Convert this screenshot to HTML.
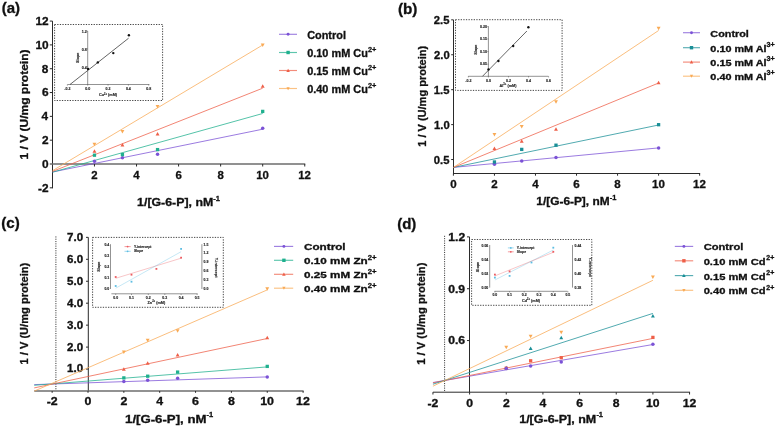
<!DOCTYPE html>
<html><head><meta charset="utf-8"><style>
html,body{margin:0;padding:0;background:#fff;}
svg{display:block;filter:blur(0.35px);}
text{font-family:"Liberation Sans", sans-serif;}
</style></head><body>
<svg width="776" height="427" viewBox="0 0 776 427">
<rect width="776" height="427" fill="#fff"/>
<text transform="translate(1.75,12.70) scale(1.029,1)" font-size="14.6" font-weight="bold" fill="#111" stroke="#111" stroke-width="0.3">(a)</text>
<line x1="52.50" y1="21.08" x2="52.50" y2="188.32" stroke="#2a2a2a" stroke-width="1.0" />
<line x1="49.80" y1="21.08" x2="52.50" y2="21.08" stroke="#2a2a2a" stroke-width="1.0" />
<line x1="49.80" y1="44.90" x2="52.50" y2="44.90" stroke="#2a2a2a" stroke-width="1.0" />
<line x1="49.80" y1="68.72" x2="52.50" y2="68.72" stroke="#2a2a2a" stroke-width="1.0" />
<line x1="49.80" y1="92.54" x2="52.50" y2="92.54" stroke="#2a2a2a" stroke-width="1.0" />
<line x1="49.80" y1="116.36" x2="52.50" y2="116.36" stroke="#2a2a2a" stroke-width="1.0" />
<line x1="49.80" y1="140.18" x2="52.50" y2="140.18" stroke="#2a2a2a" stroke-width="1.0" />
<line x1="49.80" y1="187.82" x2="52.50" y2="187.82" stroke="#2a2a2a" stroke-width="1.0" />
<text transform="translate(35.40,24.98) scale(1.120,1)" font-size="10.6" font-weight="bold" fill="#111" stroke="#111" stroke-width="0.3">12</text>
<text transform="translate(35.40,48.80) scale(1.120,1)" font-size="10.6" font-weight="bold" fill="#111" stroke="#111" stroke-width="0.3">10</text>
<text transform="translate(41.87,72.62) scale(1.120,1)" font-size="10.6" font-weight="bold" fill="#111" stroke="#111" stroke-width="0.3">8</text>
<text transform="translate(41.93,96.44) scale(1.120,1)" font-size="10.6" font-weight="bold" fill="#111" stroke="#111" stroke-width="0.3">6</text>
<text transform="translate(41.57,120.26) scale(1.120,1)" font-size="10.6" font-weight="bold" fill="#111" stroke="#111" stroke-width="0.3">4</text>
<text transform="translate(41.99,144.08) scale(1.120,1)" font-size="10.6" font-weight="bold" fill="#111" stroke="#111" stroke-width="0.3">2</text>
<text transform="translate(41.99,167.90) scale(1.120,1)" font-size="10.6" font-weight="bold" fill="#111" stroke="#111" stroke-width="0.3">0</text>
<text transform="translate(38.01,191.72) scale(1.120,1)" font-size="10.6" font-weight="bold" fill="#111" stroke="#111" stroke-width="0.3">-2</text>
<line x1="49.80" y1="164.00" x2="305.26" y2="164.00" stroke="#6c6c6c" stroke-width="1.3" />
<line x1="94.46" y1="164.00" x2="94.46" y2="166.50" stroke="#2a2a2a" stroke-width="1.0" />
<text transform="translate(91.33,179.30) scale(1.000,1)" font-size="11.4" font-weight="bold" fill="#111" stroke="#111" stroke-width="0.3">2</text>
<line x1="136.52" y1="164.00" x2="136.52" y2="166.50" stroke="#2a2a2a" stroke-width="1.0" />
<text transform="translate(133.30,179.30) scale(1.000,1)" font-size="11.4" font-weight="bold" fill="#111" stroke="#111" stroke-width="0.3">4</text>
<line x1="178.58" y1="164.00" x2="178.58" y2="166.50" stroke="#2a2a2a" stroke-width="1.0" />
<text transform="translate(175.42,179.30) scale(1.000,1)" font-size="11.4" font-weight="bold" fill="#111" stroke="#111" stroke-width="0.3">6</text>
<line x1="220.64" y1="164.00" x2="220.64" y2="166.50" stroke="#2a2a2a" stroke-width="1.0" />
<text transform="translate(217.48,179.30) scale(1.000,1)" font-size="11.4" font-weight="bold" fill="#111" stroke="#111" stroke-width="0.3">8</text>
<line x1="262.70" y1="164.00" x2="262.70" y2="166.50" stroke="#2a2a2a" stroke-width="1.0" />
<text transform="translate(256.23,179.30) scale(1.000,1)" font-size="11.4" font-weight="bold" fill="#111" stroke="#111" stroke-width="0.3">10</text>
<line x1="304.76" y1="164.00" x2="304.76" y2="166.50" stroke="#2a2a2a" stroke-width="1.0" />
<text transform="translate(298.29,179.30) scale(1.000,1)" font-size="11.4" font-weight="bold" fill="#111" stroke="#111" stroke-width="0.3">12</text>
<text transform="translate(27.70,159.48) rotate(-90) scale(1.083,1)" font-size="11.1" font-weight="bold" fill="#111" stroke="#111" stroke-width="0.3">1 / V (U/mg protein)</text>
<text transform="translate(137.10,205.70) scale(1.144,1)" font-size="10.8" font-weight="bold" fill="#111" stroke="#111" stroke-width="0.3">1/[G-6-P], nM</text>
<text transform="translate(213.37,200.50) scale(1.050,1)" font-size="7.1" font-weight="bold" fill="#111" stroke="#111" stroke-width="0.3">-1</text>
<rect x="54.60" y="24.50" width="108.00" height="76.00" fill="none" stroke="#333" stroke-width="0.9" stroke-dasharray="1.3 1.3"/>
<line x1="87.70" y1="31.00" x2="87.70" y2="84.50" stroke="#4a4a4a" stroke-width="0.6" />
<line x1="67.50" y1="84.50" x2="149.40" y2="84.50" stroke="#4a4a4a" stroke-width="0.6" />
<line x1="67.36" y1="84.50" x2="67.36" y2="85.60" stroke="#333" stroke-width="0.5" />
<line x1="87.70" y1="84.50" x2="87.70" y2="85.60" stroke="#333" stroke-width="0.5" />
<line x1="108.04" y1="84.50" x2="108.04" y2="85.60" stroke="#333" stroke-width="0.5" />
<line x1="128.38" y1="84.50" x2="128.38" y2="85.60" stroke="#333" stroke-width="0.5" />
<line x1="148.72" y1="84.50" x2="148.72" y2="85.60" stroke="#333" stroke-width="0.5" />
<line x1="86.60" y1="31.10" x2="87.70" y2="31.10" stroke="#333" stroke-width="0.5" />
<line x1="86.60" y1="48.90" x2="87.70" y2="48.90" stroke="#333" stroke-width="0.5" />
<line x1="86.60" y1="66.70" x2="87.70" y2="66.70" stroke="#333" stroke-width="0.5" />
<text x="86.80" y="33.06" font-size="3.6" font-weight="bold" text-anchor="end" fill="#2a2a2a" stroke="#2a2a2a" stroke-width="0.15">1.2</text>
<text x="86.80" y="50.86" font-size="3.6" font-weight="bold" text-anchor="end" fill="#2a2a2a" stroke="#2a2a2a" stroke-width="0.15">0.8</text>
<text x="86.80" y="68.66" font-size="3.6" font-weight="bold" text-anchor="end" fill="#2a2a2a" stroke="#2a2a2a" stroke-width="0.15">0.4</text>
<text x="67.36" y="90.06" font-size="3.6" font-weight="bold" text-anchor="middle" fill="#2a2a2a" stroke="#2a2a2a" stroke-width="0.15">-0.2</text>
<text x="87.70" y="90.06" font-size="3.6" font-weight="bold" text-anchor="middle" fill="#2a2a2a" stroke="#2a2a2a" stroke-width="0.15">0.0</text>
<text x="108.04" y="90.06" font-size="3.6" font-weight="bold" text-anchor="middle" fill="#2a2a2a" stroke="#2a2a2a" stroke-width="0.15">0.2</text>
<text x="128.38" y="90.06" font-size="3.6" font-weight="bold" text-anchor="middle" fill="#2a2a2a" stroke="#2a2a2a" stroke-width="0.15">0.4</text>
<text x="148.72" y="90.06" font-size="3.6" font-weight="bold" text-anchor="middle" fill="#2a2a2a" stroke="#2a2a2a" stroke-width="0.15">0.8</text>
<text transform="translate(78.60,57.80) rotate(-90)" text-anchor="middle" font-size="3.8" font-weight="bold" fill="#2a2a2a" stroke="#2a2a2a" stroke-width="0.15">Slope</text>
<text x="108.00" y="96.33" font-size="3.8" font-weight="bold" text-anchor="middle" fill="#2a2a2a" stroke="#2a2a2a" stroke-width="0.15">Cu<tspan dy="-1.3" font-size="2.6">2+</tspan><tspan dy="1.3"> (mM)</tspan></text>
<line x1="70.00" y1="84.50" x2="128.60" y2="38.20" stroke="#222" stroke-width="0.7" />
<circle cx="88.1" cy="68.9" r="1.2" fill="#111"/>
<circle cx="97.8" cy="62.4" r="1.2" fill="#111"/>
<circle cx="113.3" cy="53.1" r="1.2" fill="#111"/>
<circle cx="128.9" cy="35.2" r="1.2" fill="#111"/>
<line x1="52.50" y1="172.00" x2="262.70" y2="129.20" stroke="#7b52d6" stroke-width="0.90" stroke-opacity="0.85"/>
<line x1="52.50" y1="172.20" x2="262.70" y2="113.50" stroke="#1fb08e" stroke-width="0.90" stroke-opacity="0.85"/>
<line x1="52.50" y1="171.40" x2="262.70" y2="88.20" stroke="#ee5f48" stroke-width="0.90" stroke-opacity="0.85"/>
<line x1="52.50" y1="170.70" x2="262.70" y2="45.00" stroke="#f9aa55" stroke-width="0.90" stroke-opacity="0.85"/>
<circle cx="94.46" cy="161.20" r="1.75" fill="#7b52d6"/>
<circle cx="122.43" cy="157.80" r="1.75" fill="#7b52d6"/>
<circle cx="157.55" cy="154.20" r="1.75" fill="#7b52d6"/>
<circle cx="262.70" cy="128.30" r="1.75" fill="#7b52d6"/>
<rect x="92.81" y="153.55" width="3.30" height="3.30" fill="#1fb08e"/>
<rect x="120.78" y="152.95" width="3.30" height="3.30" fill="#1fb08e"/>
<rect x="155.90" y="147.95" width="3.30" height="3.30" fill="#1fb08e"/>
<rect x="261.05" y="109.75" width="3.30" height="3.30" fill="#1fb08e"/>
<polygon points="94.46,149.35 96.41,152.86 92.51,152.86" fill="#ee5f48"/>
<polygon points="122.43,142.95 124.38,146.46 120.48,146.46" fill="#ee5f48"/>
<polygon points="157.55,132.05 159.50,135.56 155.60,135.56" fill="#ee5f48"/>
<polygon points="262.70,84.15 264.65,87.66 260.75,87.66" fill="#ee5f48"/>
<polygon points="94.46,146.25 96.41,142.74 92.51,142.74" fill="#f9aa55"/>
<polygon points="122.43,133.55 124.38,130.04 120.48,130.04" fill="#f9aa55"/>
<polygon points="157.55,108.45 159.50,104.94 155.60,104.94" fill="#f9aa55"/>
<polygon points="262.70,46.95 264.65,43.44 260.75,43.44" fill="#f9aa55"/>
<line x1="279.00" y1="34.30" x2="297.00" y2="34.30" stroke="#7b52d6" stroke-width="1.15" stroke-opacity="0.72"/>
<circle cx="288.10" cy="34.30" r="1.45" fill="#7b52d6"/>
<text transform="translate(307.16,38.60) scale(1.050,1)" font-size="10.4" font-weight="bold" fill="#111" stroke="#111" stroke-width="0.3">Control</text>
<line x1="279.00" y1="52.50" x2="297.00" y2="52.50" stroke="#1fb08e" stroke-width="1.15" stroke-opacity="0.72"/>
<rect x="286.40" y="50.80" width="3.40" height="3.40" fill="#1fb08e"/>
<text transform="translate(307.16,56.80) scale(1.050,1)" font-size="10.4" font-weight="bold" fill="#111" stroke="#111" stroke-width="0.3">0.10 mM Cu</text>
<text transform="translate(367.96,52.10) scale(1.000,1)" font-size="7.4" font-weight="bold" fill="#111" stroke="#111" stroke-width="0.3">2+</text>
<line x1="279.00" y1="70.50" x2="297.00" y2="70.50" stroke="#ee5f48" stroke-width="1.15" stroke-opacity="0.72"/>
<polygon points="288.10,68.71 289.89,71.94 286.31,71.94" fill="#ee5f48"/>
<text transform="translate(307.16,74.80) scale(1.050,1)" font-size="10.4" font-weight="bold" fill="#111" stroke="#111" stroke-width="0.3">0.15 mM Cu</text>
<text transform="translate(367.96,70.10) scale(1.000,1)" font-size="7.4" font-weight="bold" fill="#111" stroke="#111" stroke-width="0.3">2+</text>
<line x1="279.00" y1="88.50" x2="297.00" y2="88.50" stroke="#f9aa55" stroke-width="1.15" stroke-opacity="0.72"/>
<polygon points="288.10,90.16 289.76,87.17 286.44,87.17" fill="#f9aa55"/>
<text transform="translate(307.16,92.80) scale(1.050,1)" font-size="10.4" font-weight="bold" fill="#111" stroke="#111" stroke-width="0.3">0.40 mM Cu</text>
<text transform="translate(367.96,88.10) scale(1.000,1)" font-size="7.4" font-weight="bold" fill="#111" stroke="#111" stroke-width="0.3">2+</text>
<text transform="translate(397.94,13.50) scale(1.045,1)" font-size="14.6" font-weight="bold" fill="#111" stroke="#111" stroke-width="0.3">(b)</text>
<line x1="453.50" y1="19.83" x2="453.50" y2="173.50" stroke="#2a2a2a" stroke-width="1.0" />
<line x1="451.20" y1="19.83" x2="453.50" y2="19.83" stroke="#2a2a2a" stroke-width="1.0" />
<text transform="translate(433.87,24.03) scale(1.080,1)" font-size="10.4" font-weight="bold" fill="#111" stroke="#111" stroke-width="0.3">2.5</text>
<line x1="451.20" y1="54.76" x2="453.50" y2="54.76" stroke="#2a2a2a" stroke-width="1.0" />
<text transform="translate(434.04,58.96) scale(1.080,1)" font-size="10.4" font-weight="bold" fill="#111" stroke="#111" stroke-width="0.3">2.0</text>
<line x1="451.20" y1="89.68" x2="453.50" y2="89.68" stroke="#2a2a2a" stroke-width="1.0" />
<text transform="translate(433.87,93.88) scale(1.080,1)" font-size="10.4" font-weight="bold" fill="#111" stroke="#111" stroke-width="0.3">1.5</text>
<line x1="451.20" y1="124.61" x2="453.50" y2="124.61" stroke="#2a2a2a" stroke-width="1.0" />
<text transform="translate(434.04,128.81) scale(1.080,1)" font-size="10.4" font-weight="bold" fill="#111" stroke="#111" stroke-width="0.3">1.0</text>
<line x1="451.20" y1="159.53" x2="453.50" y2="159.53" stroke="#2a2a2a" stroke-width="1.0" />
<text transform="translate(433.87,163.73) scale(1.080,1)" font-size="10.4" font-weight="bold" fill="#111" stroke="#111" stroke-width="0.3">0.5</text>
<line x1="453.00" y1="173.50" x2="700.14" y2="173.50" stroke="#2a2a2a" stroke-width="1.0" />
<line x1="453.40" y1="173.50" x2="453.40" y2="175.70" stroke="#2a2a2a" stroke-width="1.0" />
<text transform="translate(450.19,187.50) scale(1.090,1)" font-size="10.6" font-weight="bold" fill="#111" stroke="#111" stroke-width="0.3">0</text>
<line x1="494.44" y1="173.50" x2="494.44" y2="175.70" stroke="#2a2a2a" stroke-width="1.0" />
<text transform="translate(491.26,187.50) scale(1.090,1)" font-size="10.6" font-weight="bold" fill="#111" stroke="#111" stroke-width="0.3">2</text>
<line x1="535.48" y1="173.50" x2="535.48" y2="175.70" stroke="#2a2a2a" stroke-width="1.0" />
<text transform="translate(532.22,187.50) scale(1.090,1)" font-size="10.6" font-weight="bold" fill="#111" stroke="#111" stroke-width="0.3">4</text>
<line x1="576.52" y1="173.50" x2="576.52" y2="175.70" stroke="#2a2a2a" stroke-width="1.0" />
<text transform="translate(573.31,187.50) scale(1.090,1)" font-size="10.6" font-weight="bold" fill="#111" stroke="#111" stroke-width="0.3">6</text>
<line x1="617.56" y1="173.50" x2="617.56" y2="175.70" stroke="#2a2a2a" stroke-width="1.0" />
<text transform="translate(614.35,187.50) scale(1.090,1)" font-size="10.6" font-weight="bold" fill="#111" stroke="#111" stroke-width="0.3">8</text>
<line x1="658.60" y1="173.50" x2="658.60" y2="175.70" stroke="#2a2a2a" stroke-width="1.0" />
<text transform="translate(652.04,187.50) scale(1.090,1)" font-size="10.6" font-weight="bold" fill="#111" stroke="#111" stroke-width="0.3">10</text>
<line x1="699.64" y1="173.50" x2="699.64" y2="175.70" stroke="#2a2a2a" stroke-width="1.0" />
<text transform="translate(693.08,187.50) scale(1.090,1)" font-size="10.6" font-weight="bold" fill="#111" stroke="#111" stroke-width="0.3">12</text>
<text transform="translate(425.60,146.71) rotate(-90) scale(0.991,1)" font-size="11.1" font-weight="bold" fill="#111" stroke="#111" stroke-width="0.3">1 / V (U/mg protein)</text>
<text transform="translate(536.33,204.90) scale(1.143,1)" font-size="10.4" font-weight="bold" fill="#111" stroke="#111" stroke-width="0.3">1/[G-6-P], nM</text>
<text transform="translate(609.74,199.70) scale(1.050,1)" font-size="7.1" font-weight="bold" fill="#111" stroke="#111" stroke-width="0.3">-1</text>
<rect x="455.50" y="19.70" width="106.60" height="70.70" fill="none" stroke="#333" stroke-width="0.9" stroke-dasharray="1.3 1.3"/>
<line x1="488.40" y1="26.30" x2="488.40" y2="76.30" stroke="#4a4a4a" stroke-width="0.6" />
<line x1="468.20" y1="76.30" x2="548.40" y2="76.30" stroke="#4a4a4a" stroke-width="0.6" />
<line x1="468.34" y1="76.30" x2="468.34" y2="77.40" stroke="#333" stroke-width="0.5" />
<line x1="488.40" y1="76.30" x2="488.40" y2="77.40" stroke="#333" stroke-width="0.5" />
<line x1="508.46" y1="76.30" x2="508.46" y2="77.40" stroke="#333" stroke-width="0.5" />
<line x1="528.52" y1="76.30" x2="528.52" y2="77.40" stroke="#333" stroke-width="0.5" />
<line x1="548.58" y1="76.30" x2="548.58" y2="77.40" stroke="#333" stroke-width="0.5" />
<line x1="487.30" y1="26.60" x2="488.40" y2="26.60" stroke="#333" stroke-width="0.5" />
<line x1="487.30" y1="39.00" x2="488.40" y2="39.00" stroke="#333" stroke-width="0.5" />
<line x1="487.30" y1="51.60" x2="488.40" y2="51.60" stroke="#333" stroke-width="0.5" />
<line x1="487.30" y1="64.20" x2="488.40" y2="64.20" stroke="#333" stroke-width="0.5" />
<text x="487.00" y="27.86" font-size="3.6" font-weight="bold" text-anchor="end" fill="#2a2a2a" stroke="#2a2a2a" stroke-width="0.15">0.20</text>
<text x="487.00" y="40.26" font-size="3.6" font-weight="bold" text-anchor="end" fill="#2a2a2a" stroke="#2a2a2a" stroke-width="0.15">0.15</text>
<text x="487.00" y="52.86" font-size="3.6" font-weight="bold" text-anchor="end" fill="#2a2a2a" stroke="#2a2a2a" stroke-width="0.15">0.10</text>
<text x="487.00" y="65.46" font-size="3.6" font-weight="bold" text-anchor="end" fill="#2a2a2a" stroke="#2a2a2a" stroke-width="0.15">0.05</text>
<text x="468.34" y="81.96" font-size="3.6" font-weight="bold" text-anchor="middle" fill="#2a2a2a" stroke="#2a2a2a" stroke-width="0.15">-0.2</text>
<text x="488.40" y="81.96" font-size="3.6" font-weight="bold" text-anchor="middle" fill="#2a2a2a" stroke="#2a2a2a" stroke-width="0.15">0.0</text>
<text x="508.46" y="81.96" font-size="3.6" font-weight="bold" text-anchor="middle" fill="#2a2a2a" stroke="#2a2a2a" stroke-width="0.15">0.2</text>
<text x="528.52" y="81.96" font-size="3.6" font-weight="bold" text-anchor="middle" fill="#2a2a2a" stroke="#2a2a2a" stroke-width="0.15">0.4</text>
<text x="548.58" y="81.96" font-size="3.6" font-weight="bold" text-anchor="middle" fill="#2a2a2a" stroke="#2a2a2a" stroke-width="0.15">0.6</text>
<text transform="translate(476.90,49.70) rotate(-90)" text-anchor="middle" font-size="3.8" font-weight="bold" fill="#2a2a2a" stroke="#2a2a2a" stroke-width="0.15">Slope</text>
<text x="508.00" y="86.73" font-size="3.8" font-weight="bold" text-anchor="middle" fill="#2a2a2a" stroke="#2a2a2a" stroke-width="0.15">Al<tspan dy="-1.3" font-size="2.6">3+</tspan><tspan dy="1.3"> (mM)</tspan></text>
<line x1="482.50" y1="76.30" x2="526.90" y2="31.00" stroke="#222" stroke-width="0.7" />
<circle cx="488.5" cy="69.4" r="1.2" fill="#111"/>
<circle cx="498.4" cy="61.0" r="1.2" fill="#111"/>
<circle cx="513.2" cy="46.0" r="1.2" fill="#111"/>
<circle cx="528.4" cy="27.2" r="1.2" fill="#111"/>
<line x1="453.50" y1="167.40" x2="658.60" y2="147.90" stroke="#7b52d6" stroke-width="0.90" stroke-opacity="0.85"/>
<line x1="453.50" y1="167.40" x2="658.60" y2="125.00" stroke="#1a8f97" stroke-width="0.90" stroke-opacity="0.85"/>
<line x1="453.50" y1="167.40" x2="658.60" y2="83.00" stroke="#ee5f48" stroke-width="0.90" stroke-opacity="0.85"/>
<line x1="453.50" y1="167.40" x2="658.60" y2="30.50" stroke="#f9aa55" stroke-width="0.90" stroke-opacity="0.85"/>
<circle cx="494.44" cy="164.30" r="1.75" fill="#7b52d6"/>
<circle cx="521.73" cy="160.90" r="1.75" fill="#7b52d6"/>
<circle cx="556.00" cy="157.40" r="1.75" fill="#7b52d6"/>
<circle cx="658.60" cy="147.90" r="1.75" fill="#7b52d6"/>
<rect x="492.79" y="160.35" width="3.30" height="3.30" fill="#1a8f97"/>
<rect x="520.08" y="147.75" width="3.30" height="3.30" fill="#1a8f97"/>
<rect x="554.35" y="143.55" width="3.30" height="3.30" fill="#1a8f97"/>
<rect x="656.95" y="123.05" width="3.30" height="3.30" fill="#1a8f97"/>
<polygon points="494.44,146.45 496.39,149.96 492.49,149.96" fill="#ee5f48"/>
<polygon points="521.73,139.25 523.68,142.76 519.78,142.76" fill="#ee5f48"/>
<polygon points="556.00,127.35 557.95,130.86 554.05,130.86" fill="#ee5f48"/>
<polygon points="658.60,80.85 660.55,84.36 656.65,84.36" fill="#ee5f48"/>
<polygon points="494.44,136.55 496.39,133.04 492.49,133.04" fill="#f9aa55"/>
<polygon points="521.73,128.55 523.68,125.04 519.78,125.04" fill="#f9aa55"/>
<polygon points="556.00,103.85 557.95,100.34 554.05,100.34" fill="#f9aa55"/>
<polygon points="658.60,30.15 660.55,26.64 656.65,26.64" fill="#f9aa55"/>
<line x1="683.00" y1="32.70" x2="700.00" y2="32.70" stroke="#7b52d6" stroke-width="1.15" stroke-opacity="0.72"/>
<circle cx="691.50" cy="32.70" r="1.45" fill="#7b52d6"/>
<text transform="translate(710.37,36.60) scale(1.260,1)" font-size="8.6" font-weight="bold" fill="#111" stroke="#111" stroke-width="0.3">Control</text>
<line x1="683.00" y1="47.70" x2="700.00" y2="47.70" stroke="#1a8f97" stroke-width="1.15" stroke-opacity="0.72"/>
<rect x="689.80" y="46.00" width="3.40" height="3.40" fill="#1a8f97"/>
<text transform="translate(710.37,51.60) scale(1.260,1)" font-size="8.6" font-weight="bold" fill="#111" stroke="#111" stroke-width="0.3">0.10 mM Al</text>
<text transform="translate(766.61,46.80) scale(1.120,1)" font-size="6.4" font-weight="bold" fill="#111" stroke="#111" stroke-width="0.3">3+</text>
<line x1="683.00" y1="62.10" x2="700.00" y2="62.10" stroke="#ee5f48" stroke-width="1.15" stroke-opacity="0.72"/>
<polygon points="691.50,60.31 693.29,63.54 689.71,63.54" fill="#ee5f48"/>
<text transform="translate(710.37,66.00) scale(1.260,1)" font-size="8.6" font-weight="bold" fill="#111" stroke="#111" stroke-width="0.3">0.15 mM Al</text>
<text transform="translate(766.61,61.20) scale(1.120,1)" font-size="6.4" font-weight="bold" fill="#111" stroke="#111" stroke-width="0.3">3+</text>
<line x1="683.00" y1="76.20" x2="700.00" y2="76.20" stroke="#f9aa55" stroke-width="1.15" stroke-opacity="0.72"/>
<polygon points="691.50,77.86 693.16,74.87 689.84,74.87" fill="#f9aa55"/>
<text transform="translate(710.37,80.10) scale(1.260,1)" font-size="8.6" font-weight="bold" fill="#111" stroke="#111" stroke-width="0.3">0.40 mM Al</text>
<text transform="translate(766.61,75.30) scale(1.120,1)" font-size="6.4" font-weight="bold" fill="#111" stroke="#111" stroke-width="0.3">3+</text>
<text transform="translate(1.34,228.00) scale(1.035,1)" font-size="14.6" font-weight="bold" fill="#111" stroke="#111" stroke-width="0.3">(c)</text>
<line x1="88.30" y1="237.35" x2="88.30" y2="391.00" stroke="#2a2a2a" stroke-width="1.0" />
<line x1="86.00" y1="237.35" x2="88.30" y2="237.35" stroke="#2a2a2a" stroke-width="1.0" />
<text transform="translate(67.11,240.75) scale(1.155,1)" font-size="10.0" font-weight="bold" fill="#111" stroke="#111" stroke-width="0.3">7.0</text>
<line x1="86.00" y1="259.30" x2="88.30" y2="259.30" stroke="#2a2a2a" stroke-width="1.0" />
<text transform="translate(67.11,262.70) scale(1.155,1)" font-size="10.0" font-weight="bold" fill="#111" stroke="#111" stroke-width="0.3">6.0</text>
<line x1="86.00" y1="281.25" x2="88.30" y2="281.25" stroke="#2a2a2a" stroke-width="1.0" />
<text transform="translate(67.11,284.65) scale(1.155,1)" font-size="10.0" font-weight="bold" fill="#111" stroke="#111" stroke-width="0.3">5.0</text>
<line x1="86.00" y1="303.20" x2="88.30" y2="303.20" stroke="#2a2a2a" stroke-width="1.0" />
<text transform="translate(67.11,306.60) scale(1.155,1)" font-size="10.0" font-weight="bold" fill="#111" stroke="#111" stroke-width="0.3">4.0</text>
<line x1="86.00" y1="325.15" x2="88.30" y2="325.15" stroke="#2a2a2a" stroke-width="1.0" />
<text transform="translate(67.11,328.55) scale(1.155,1)" font-size="10.0" font-weight="bold" fill="#111" stroke="#111" stroke-width="0.3">3.0</text>
<line x1="86.00" y1="347.10" x2="88.30" y2="347.10" stroke="#2a2a2a" stroke-width="1.0" />
<text transform="translate(67.11,350.50) scale(1.155,1)" font-size="10.0" font-weight="bold" fill="#111" stroke="#111" stroke-width="0.3">2.0</text>
<line x1="86.00" y1="369.05" x2="88.30" y2="369.05" stroke="#2a2a2a" stroke-width="1.0" />
<text transform="translate(67.11,372.45) scale(1.155,1)" font-size="10.0" font-weight="bold" fill="#111" stroke="#111" stroke-width="0.3">1.0</text>
<line x1="34.22" y1="391.00" x2="303.60" y2="391.00" stroke="#6e6e6e" stroke-width="1.5" />
<line x1="52.15" y1="391.00" x2="52.15" y2="392.80" stroke="#2a2a2a" stroke-width="1.0" />
<text transform="translate(46.64,405.10) scale(1.190,1)" font-size="10.4" font-weight="bold" fill="#111" stroke="#111" stroke-width="0.3">-2</text>
<line x1="88.00" y1="391.00" x2="88.00" y2="392.80" stroke="#2a2a2a" stroke-width="1.0" />
<text transform="translate(84.57,405.10) scale(1.190,1)" font-size="10.4" font-weight="bold" fill="#111" stroke="#111" stroke-width="0.3">0</text>
<line x1="123.85" y1="391.00" x2="123.85" y2="392.80" stroke="#2a2a2a" stroke-width="1.0" />
<text transform="translate(120.45,405.10) scale(1.190,1)" font-size="10.4" font-weight="bold" fill="#111" stroke="#111" stroke-width="0.3">2</text>
<line x1="159.70" y1="391.00" x2="159.70" y2="392.80" stroke="#2a2a2a" stroke-width="1.0" />
<text transform="translate(156.20,405.10) scale(1.190,1)" font-size="10.4" font-weight="bold" fill="#111" stroke="#111" stroke-width="0.3">4</text>
<line x1="195.55" y1="391.00" x2="195.55" y2="392.80" stroke="#2a2a2a" stroke-width="1.0" />
<text transform="translate(192.12,405.10) scale(1.190,1)" font-size="10.4" font-weight="bold" fill="#111" stroke="#111" stroke-width="0.3">6</text>
<line x1="231.40" y1="391.00" x2="231.40" y2="392.80" stroke="#2a2a2a" stroke-width="1.0" />
<text transform="translate(227.97,405.10) scale(1.190,1)" font-size="10.4" font-weight="bold" fill="#111" stroke="#111" stroke-width="0.3">8</text>
<line x1="267.25" y1="391.00" x2="267.25" y2="392.80" stroke="#2a2a2a" stroke-width="1.0" />
<text transform="translate(260.23,405.10) scale(1.190,1)" font-size="10.4" font-weight="bold" fill="#111" stroke="#111" stroke-width="0.3">10</text>
<line x1="303.10" y1="391.00" x2="303.10" y2="392.80" stroke="#2a2a2a" stroke-width="1.0" />
<text transform="translate(296.08,405.10) scale(1.190,1)" font-size="10.4" font-weight="bold" fill="#111" stroke="#111" stroke-width="0.3">12</text>
<line x1="55.90" y1="236.40" x2="55.90" y2="390.00" stroke="#222" stroke-width="0.9" stroke-dasharray="1.1 1.2"/>
<text transform="translate(27.80,364.52) rotate(-90) scale(1.001,1)" font-size="11.1" font-weight="bold" fill="#111" stroke="#111" stroke-width="0.3">1 / V (U/mg protein)</text>
<text transform="translate(125.04,422.60) scale(1.247,1)" font-size="10.6" font-weight="bold" fill="#111" stroke="#111" stroke-width="0.3">1/[G-6-P], nM</text>
<text transform="translate(206.57,417.40) scale(1.050,1)" font-size="7.1" font-weight="bold" fill="#111" stroke="#111" stroke-width="0.3">-1</text>
<rect x="92.60" y="237.40" width="130.70" height="69.90" fill="none" stroke="#333" stroke-width="0.9" stroke-dasharray="1.3 1.3"/>
<line x1="110.50" y1="244.20" x2="110.50" y2="289.00" stroke="#4a4a4a" stroke-width="0.6" />
<line x1="201.90" y1="244.20" x2="201.90" y2="289.00" stroke="#4a4a4a" stroke-width="0.6" />
<line x1="111.40" y1="293.80" x2="197.60" y2="293.80" stroke="#4a4a4a" stroke-width="0.6" />
<line x1="115.70" y1="293.80" x2="115.70" y2="294.90" stroke="#333" stroke-width="0.5" />
<line x1="131.50" y1="293.80" x2="131.50" y2="294.90" stroke="#333" stroke-width="0.5" />
<line x1="148.30" y1="293.80" x2="148.30" y2="294.90" stroke="#333" stroke-width="0.5" />
<line x1="164.80" y1="293.80" x2="164.80" y2="294.90" stroke="#333" stroke-width="0.5" />
<line x1="181.10" y1="293.80" x2="181.10" y2="294.90" stroke="#333" stroke-width="0.5" />
<line x1="197.10" y1="293.80" x2="197.10" y2="294.90" stroke="#333" stroke-width="0.5" />
<text x="109.30" y="245.92" font-size="3.5" font-weight="bold" text-anchor="end" fill="#2a2a2a" stroke="#2a2a2a" stroke-width="0.15">0.4</text>
<text x="109.30" y="256.62" font-size="3.5" font-weight="bold" text-anchor="end" fill="#2a2a2a" stroke="#2a2a2a" stroke-width="0.15">0.3</text>
<text x="109.30" y="267.53" font-size="3.5" font-weight="bold" text-anchor="end" fill="#2a2a2a" stroke="#2a2a2a" stroke-width="0.15">0.2</text>
<text x="109.30" y="278.62" font-size="3.5" font-weight="bold" text-anchor="end" fill="#2a2a2a" stroke="#2a2a2a" stroke-width="0.15">0.1</text>
<text x="109.30" y="290.03" font-size="3.5" font-weight="bold" text-anchor="end" fill="#2a2a2a" stroke="#2a2a2a" stroke-width="0.15">0.0</text>
<text x="203.50" y="245.92" font-size="3.5" font-weight="bold" text-anchor="start" fill="#2a2a2a" stroke="#2a2a2a" stroke-width="0.15">1.5</text>
<text x="203.50" y="253.82" font-size="3.5" font-weight="bold" text-anchor="start" fill="#2a2a2a" stroke="#2a2a2a" stroke-width="0.15">1.2</text>
<text x="203.50" y="262.83" font-size="3.5" font-weight="bold" text-anchor="start" fill="#2a2a2a" stroke="#2a2a2a" stroke-width="0.15">0.9</text>
<text x="203.50" y="272.23" font-size="3.5" font-weight="bold" text-anchor="start" fill="#2a2a2a" stroke="#2a2a2a" stroke-width="0.15">0.6</text>
<text x="203.50" y="281.03" font-size="3.5" font-weight="bold" text-anchor="start" fill="#2a2a2a" stroke="#2a2a2a" stroke-width="0.15">0.3</text>
<text x="203.50" y="290.03" font-size="3.5" font-weight="bold" text-anchor="start" fill="#2a2a2a" stroke="#2a2a2a" stroke-width="0.15">0.0</text>
<text x="115.70" y="298.83" font-size="3.5" font-weight="bold" text-anchor="middle" fill="#2a2a2a" stroke="#2a2a2a" stroke-width="0.15">0.0</text>
<text x="131.50" y="298.83" font-size="3.5" font-weight="bold" text-anchor="middle" fill="#2a2a2a" stroke="#2a2a2a" stroke-width="0.15">0.1</text>
<text x="148.30" y="298.83" font-size="3.5" font-weight="bold" text-anchor="middle" fill="#2a2a2a" stroke="#2a2a2a" stroke-width="0.15">0.2</text>
<text x="164.80" y="298.83" font-size="3.5" font-weight="bold" text-anchor="middle" fill="#2a2a2a" stroke="#2a2a2a" stroke-width="0.15">0.3</text>
<text x="181.10" y="298.83" font-size="3.5" font-weight="bold" text-anchor="middle" fill="#2a2a2a" stroke="#2a2a2a" stroke-width="0.15">0.4</text>
<text x="197.10" y="298.83" font-size="3.5" font-weight="bold" text-anchor="middle" fill="#2a2a2a" stroke="#2a2a2a" stroke-width="0.15">0.5</text>
<text transform="translate(100.00,266.70) rotate(-90)" text-anchor="middle" font-size="3.8" font-weight="bold" fill="#2a2a2a" stroke="#2a2a2a" stroke-width="0.15">Slope</text>
<text transform="translate(215.00,267.60) rotate(90)" text-anchor="middle" font-size="3.8" font-weight="bold" fill="#2a2a2a" stroke="#2a2a2a" stroke-width="0.15">Y-intercept</text>
<text x="156.40" y="303.63" font-size="3.8" font-weight="bold" text-anchor="middle" fill="#2a2a2a" stroke="#2a2a2a" stroke-width="0.15">Zn<tspan dy="-1.3" font-size="2.6">2+</tspan><tspan dy="1.3"> (mM)</tspan></text>
<line x1="124.50" y1="246.60" x2="130.70" y2="246.60" stroke="#ec5b60" stroke-width="0.6" />
<circle cx="127.6" cy="246.6" r="0.9" fill="#ec5b60"/>
<text x="133.90" y="247.79" font-size="3.4" font-weight="bold" text-anchor="start" fill="#2a2a2a" stroke="#2a2a2a" stroke-width="0.15">Y-intercept</text>
<line x1="124.50" y1="251.30" x2="130.70" y2="251.30" stroke="#5cbde2" stroke-width="0.6" />
<circle cx="127.6" cy="251.3" r="0.9" fill="#5cbde2"/>
<text x="133.90" y="252.49" font-size="3.4" font-weight="bold" text-anchor="start" fill="#2a2a2a" stroke="#2a2a2a" stroke-width="0.15">Slope</text>
<line x1="115.70" y1="278.30" x2="181.10" y2="258.20" stroke="#ec5b60" stroke-width="0.5" stroke-opacity="0.7"/>
<line x1="115.70" y1="288.20" x2="181.10" y2="251.70" stroke="#5cbde2" stroke-width="0.5" stroke-opacity="0.7"/>
<rect x="114.79" y="276.09" width="1.81" height="1.81" fill="#ec5b60"/>
<rect x="130.59" y="273.79" width="1.81" height="1.81" fill="#ec5b60"/>
<rect x="155.49" y="267.99" width="1.81" height="1.81" fill="#ec5b60"/>
<rect x="180.19" y="256.79" width="1.81" height="1.81" fill="#ec5b60"/>
<rect x="114.79" y="285.09" width="1.81" height="1.81" fill="#5cbde2"/>
<rect x="130.59" y="280.79" width="1.81" height="1.81" fill="#5cbde2"/>
<rect x="180.19" y="247.99" width="1.81" height="1.81" fill="#5cbde2"/>
<line x1="34.22" y1="384.60" x2="267.25" y2="376.90" stroke="#7b52d6" stroke-width="0.90" stroke-opacity="0.85"/>
<line x1="34.22" y1="385.30" x2="267.25" y2="366.90" stroke="#1fb08e" stroke-width="0.90" stroke-opacity="0.85"/>
<line x1="34.22" y1="387.90" x2="267.25" y2="338.50" stroke="#ee5f48" stroke-width="0.90" stroke-opacity="0.85"/>
<line x1="34.22" y1="391.10" x2="267.25" y2="289.90" stroke="#f9aa55" stroke-width="0.90" stroke-opacity="0.85"/>
<circle cx="123.85" cy="381.50" r="1.75" fill="#7b52d6"/>
<circle cx="147.69" cy="380.30" r="1.75" fill="#7b52d6"/>
<circle cx="177.62" cy="378.20" r="1.75" fill="#7b52d6"/>
<circle cx="267.25" cy="376.90" r="1.75" fill="#7b52d6"/>
<rect x="122.20" y="376.25" width="3.30" height="3.30" fill="#1fb08e"/>
<rect x="146.04" y="374.55" width="3.30" height="3.30" fill="#1fb08e"/>
<rect x="175.97" y="370.45" width="3.30" height="3.30" fill="#1fb08e"/>
<rect x="265.60" y="364.75" width="3.30" height="3.30" fill="#1fb08e"/>
<polygon points="123.85,367.25 125.80,370.76 121.90,370.76" fill="#ee5f48"/>
<polygon points="147.69,361.15 149.64,364.66 145.74,364.66" fill="#ee5f48"/>
<polygon points="177.62,352.95 179.57,356.46 175.68,356.46" fill="#ee5f48"/>
<polygon points="267.25,335.65 269.20,339.16 265.30,339.16" fill="#ee5f48"/>
<polygon points="123.85,353.95 125.80,350.44 121.90,350.44" fill="#f9aa55"/>
<polygon points="147.69,342.15 149.64,338.64 145.74,338.64" fill="#f9aa55"/>
<polygon points="177.62,332.65 179.57,329.14 175.68,329.14" fill="#f9aa55"/>
<polygon points="267.25,290.75 269.20,287.24 265.30,287.24" fill="#f9aa55"/>
<line x1="274.00" y1="246.40" x2="293.20" y2="246.40" stroke="#7b52d6" stroke-width="1.15" stroke-opacity="0.72"/>
<circle cx="283.90" cy="246.40" r="1.45" fill="#7b52d6"/>
<text transform="translate(304.03,250.40) scale(1.300,1)" font-size="9.0" font-weight="bold" fill="#111" stroke="#111" stroke-width="0.3">Control</text>
<line x1="274.00" y1="260.30" x2="293.20" y2="260.30" stroke="#1fb08e" stroke-width="1.15" stroke-opacity="0.72"/>
<rect x="282.20" y="258.60" width="3.40" height="3.40" fill="#1fb08e"/>
<text transform="translate(304.03,264.30) scale(1.300,1)" font-size="9.0" font-weight="bold" fill="#111" stroke="#111" stroke-width="0.3">0.10 mM Zn</text>
<text transform="translate(367.67,260.00) scale(1.150,1)" font-size="6.7" font-weight="bold" fill="#111" stroke="#111" stroke-width="0.3">2+</text>
<line x1="274.00" y1="274.30" x2="293.20" y2="274.30" stroke="#ee5f48" stroke-width="1.15" stroke-opacity="0.72"/>
<polygon points="283.90,272.51 285.69,275.74 282.11,275.74" fill="#ee5f48"/>
<text transform="translate(304.03,278.30) scale(1.300,1)" font-size="9.0" font-weight="bold" fill="#111" stroke="#111" stroke-width="0.3">0.25 mM Zn</text>
<text transform="translate(367.67,274.00) scale(1.150,1)" font-size="6.7" font-weight="bold" fill="#111" stroke="#111" stroke-width="0.3">2+</text>
<line x1="274.00" y1="288.20" x2="293.20" y2="288.20" stroke="#f9aa55" stroke-width="1.15" stroke-opacity="0.72"/>
<polygon points="283.90,289.86 285.56,286.87 282.24,286.87" fill="#f9aa55"/>
<text transform="translate(304.03,292.20) scale(1.300,1)" font-size="9.0" font-weight="bold" fill="#111" stroke="#111" stroke-width="0.3">0.40 mM Zn</text>
<text transform="translate(367.67,287.90) scale(1.150,1)" font-size="6.7" font-weight="bold" fill="#111" stroke="#111" stroke-width="0.3">2+</text>
<text transform="translate(397.15,229.30) scale(1.027,1)" font-size="14.6" font-weight="bold" fill="#111" stroke="#111" stroke-width="0.3">(d)</text>
<line x1="469.50" y1="236.88" x2="469.50" y2="392.20" stroke="#2a2a2a" stroke-width="1.0" />
<line x1="467.00" y1="236.88" x2="469.50" y2="236.88" stroke="#2a2a2a" stroke-width="1.0" />
<text transform="translate(448.27,240.68) scale(1.170,1)" font-size="10.4" font-weight="bold" fill="#111" stroke="#111" stroke-width="0.3">1.2</text>
<line x1="467.00" y1="288.72" x2="469.50" y2="288.72" stroke="#2a2a2a" stroke-width="1.0" />
<text transform="translate(448.21,292.52) scale(1.170,1)" font-size="10.4" font-weight="bold" fill="#111" stroke="#111" stroke-width="0.3">0.9</text>
<line x1="467.00" y1="340.56" x2="469.50" y2="340.56" stroke="#2a2a2a" stroke-width="1.0" />
<text transform="translate(448.21,344.36) scale(1.170,1)" font-size="10.4" font-weight="bold" fill="#111" stroke="#111" stroke-width="0.3">0.6</text>
<line x1="432.94" y1="392.20" x2="690.06" y2="392.20" stroke="#2a2a2a" stroke-width="1.0" />
<line x1="432.94" y1="392.20" x2="432.94" y2="394.50" stroke="#2a2a2a" stroke-width="1.0" />
<text transform="translate(427.52,406.70) scale(1.160,1)" font-size="10.5" font-weight="bold" fill="#111" stroke="#111" stroke-width="0.3">-2</text>
<line x1="469.60" y1="392.20" x2="469.60" y2="394.50" stroke="#2a2a2a" stroke-width="1.0" />
<text transform="translate(466.22,406.70) scale(1.160,1)" font-size="10.5" font-weight="bold" fill="#111" stroke="#111" stroke-width="0.3">0</text>
<line x1="506.26" y1="392.20" x2="506.26" y2="394.50" stroke="#2a2a2a" stroke-width="1.0" />
<text transform="translate(502.91,406.70) scale(1.160,1)" font-size="10.5" font-weight="bold" fill="#111" stroke="#111" stroke-width="0.3">2</text>
<line x1="542.92" y1="392.20" x2="542.92" y2="394.50" stroke="#2a2a2a" stroke-width="1.0" />
<text transform="translate(539.48,406.70) scale(1.160,1)" font-size="10.5" font-weight="bold" fill="#111" stroke="#111" stroke-width="0.3">4</text>
<line x1="579.58" y1="392.20" x2="579.58" y2="394.50" stroke="#2a2a2a" stroke-width="1.0" />
<text transform="translate(576.20,406.70) scale(1.160,1)" font-size="10.5" font-weight="bold" fill="#111" stroke="#111" stroke-width="0.3">6</text>
<line x1="616.24" y1="392.20" x2="616.24" y2="394.50" stroke="#2a2a2a" stroke-width="1.0" />
<text transform="translate(612.86,406.70) scale(1.160,1)" font-size="10.5" font-weight="bold" fill="#111" stroke="#111" stroke-width="0.3">8</text>
<line x1="652.90" y1="392.20" x2="652.90" y2="394.50" stroke="#2a2a2a" stroke-width="1.0" />
<text transform="translate(645.99,406.70) scale(1.160,1)" font-size="10.5" font-weight="bold" fill="#111" stroke="#111" stroke-width="0.3">10</text>
<line x1="689.56" y1="392.20" x2="689.56" y2="394.50" stroke="#2a2a2a" stroke-width="1.0" />
<text transform="translate(682.65,406.70) scale(1.160,1)" font-size="10.5" font-weight="bold" fill="#111" stroke="#111" stroke-width="0.3">12</text>
<line x1="444.60" y1="235.80" x2="444.60" y2="391.50" stroke="#222" stroke-width="0.9" stroke-dasharray="1.1 1.2"/>
<text transform="translate(425.30,364.73) rotate(-90) scale(1.005,1)" font-size="11.1" font-weight="bold" fill="#111" stroke="#111" stroke-width="0.3">1 / V (U/mg protein)</text>
<text transform="translate(519.19,422.60) scale(1.180,1)" font-size="10.6" font-weight="bold" fill="#111" stroke="#111" stroke-width="0.3">1/[G-6-P], nM</text>
<text transform="translate(596.39,417.40) scale(1.050,1)" font-size="7.1" font-weight="bold" fill="#111" stroke="#111" stroke-width="0.3">-1</text>
<rect x="471.60" y="239.50" width="120.20" height="65.80" fill="none" stroke="#333" stroke-width="0.9" stroke-dasharray="1.3 1.3"/>
<line x1="489.70" y1="245.00" x2="489.70" y2="287.60" stroke="#4a4a4a" stroke-width="0.6" />
<line x1="572.50" y1="245.00" x2="572.50" y2="287.60" stroke="#4a4a4a" stroke-width="0.6" />
<line x1="494.50" y1="291.30" x2="567.50" y2="291.30" stroke="#4a4a4a" stroke-width="0.6" />
<line x1="494.90" y1="291.30" x2="494.90" y2="292.40" stroke="#333" stroke-width="0.5" />
<line x1="509.60" y1="291.30" x2="509.60" y2="292.40" stroke="#333" stroke-width="0.5" />
<line x1="524.20" y1="291.30" x2="524.20" y2="292.40" stroke="#333" stroke-width="0.5" />
<line x1="539.00" y1="291.30" x2="539.00" y2="292.40" stroke="#333" stroke-width="0.5" />
<line x1="553.30" y1="291.30" x2="553.30" y2="292.40" stroke="#333" stroke-width="0.5" />
<line x1="567.90" y1="291.30" x2="567.90" y2="292.40" stroke="#333" stroke-width="0.5" />
<text x="488.30" y="246.82" font-size="3.5" font-weight="bold" text-anchor="end" fill="#2a2a2a" stroke="#2a2a2a" stroke-width="0.15">0.06</text>
<text x="488.30" y="260.73" font-size="3.5" font-weight="bold" text-anchor="end" fill="#2a2a2a" stroke="#2a2a2a" stroke-width="0.15">0.04</text>
<text x="488.30" y="274.73" font-size="3.5" font-weight="bold" text-anchor="end" fill="#2a2a2a" stroke="#2a2a2a" stroke-width="0.15">0.02</text>
<text x="488.30" y="288.62" font-size="3.5" font-weight="bold" text-anchor="end" fill="#2a2a2a" stroke="#2a2a2a" stroke-width="0.15">0.00</text>
<text x="574.50" y="246.82" font-size="3.5" font-weight="bold" text-anchor="start" fill="#2a2a2a" stroke="#2a2a2a" stroke-width="0.15">0.44</text>
<text x="574.50" y="260.73" font-size="3.5" font-weight="bold" text-anchor="start" fill="#2a2a2a" stroke="#2a2a2a" stroke-width="0.15">0.42</text>
<text x="574.50" y="274.73" font-size="3.5" font-weight="bold" text-anchor="start" fill="#2a2a2a" stroke="#2a2a2a" stroke-width="0.15">0.40</text>
<text x="574.50" y="288.62" font-size="3.5" font-weight="bold" text-anchor="start" fill="#2a2a2a" stroke="#2a2a2a" stroke-width="0.15">0.38</text>
<text x="494.90" y="296.12" font-size="3.5" font-weight="bold" text-anchor="middle" fill="#2a2a2a" stroke="#2a2a2a" stroke-width="0.15">0.0</text>
<text x="509.60" y="296.12" font-size="3.5" font-weight="bold" text-anchor="middle" fill="#2a2a2a" stroke="#2a2a2a" stroke-width="0.15">0.1</text>
<text x="524.20" y="296.12" font-size="3.5" font-weight="bold" text-anchor="middle" fill="#2a2a2a" stroke="#2a2a2a" stroke-width="0.15">0.2</text>
<text x="539.00" y="296.12" font-size="3.5" font-weight="bold" text-anchor="middle" fill="#2a2a2a" stroke="#2a2a2a" stroke-width="0.15">0.3</text>
<text x="553.30" y="296.12" font-size="3.5" font-weight="bold" text-anchor="middle" fill="#2a2a2a" stroke="#2a2a2a" stroke-width="0.15">0.4</text>
<text x="567.90" y="296.12" font-size="3.5" font-weight="bold" text-anchor="middle" fill="#2a2a2a" stroke="#2a2a2a" stroke-width="0.15">0.5</text>
<text transform="translate(478.80,267.00) rotate(-90)" text-anchor="middle" font-size="3.8" font-weight="bold" fill="#2a2a2a" stroke="#2a2a2a" stroke-width="0.15">Slope</text>
<text transform="translate(589.00,267.00) rotate(90)" text-anchor="middle" font-size="3.8" font-weight="bold" fill="#2a2a2a" stroke="#2a2a2a" stroke-width="0.15">Y-intercept</text>
<text x="531.00" y="301.73" font-size="3.8" font-weight="bold" text-anchor="middle" fill="#2a2a2a" stroke="#2a2a2a" stroke-width="0.15">Cd<tspan dy="-1.3" font-size="2.6">2+</tspan><tspan dy="1.3"> (mM)</tspan></text>
<line x1="507.90" y1="247.90" x2="513.70" y2="247.90" stroke="#5cbde2" stroke-width="0.6" />
<circle cx="510.8" cy="247.9" r="0.9" fill="#5cbde2"/>
<text x="516.80" y="249.09" font-size="3.4" font-weight="bold" text-anchor="start" fill="#2a2a2a" stroke="#2a2a2a" stroke-width="0.15">Y-intercept</text>
<line x1="507.90" y1="251.80" x2="513.70" y2="251.80" stroke="#ec5b60" stroke-width="0.6" />
<circle cx="510.8" cy="251.8" r="0.9" fill="#ec5b60"/>
<text x="516.80" y="252.99" font-size="3.4" font-weight="bold" text-anchor="start" fill="#2a2a2a" stroke="#2a2a2a" stroke-width="0.15">Slope</text>
<line x1="494.90" y1="280.00" x2="553.30" y2="250.00" stroke="#5cbde2" stroke-width="0.5" stroke-opacity="0.7"/>
<line x1="494.90" y1="275.90" x2="553.30" y2="252.30" stroke="#ec5b60" stroke-width="0.5" stroke-opacity="0.7"/>
<rect x="493.99" y="276.69" width="1.81" height="1.81" fill="#5cbde2"/>
<rect x="508.69" y="274.99" width="1.81" height="1.81" fill="#5cbde2"/>
<rect x="530.59" y="261.59" width="1.81" height="1.81" fill="#5cbde2"/>
<rect x="552.39" y="246.79" width="1.81" height="1.81" fill="#5cbde2"/>
<rect x="493.99" y="273.69" width="1.81" height="1.81" fill="#ec5b60"/>
<rect x="508.69" y="270.49" width="1.81" height="1.81" fill="#ec5b60"/>
<rect x="552.39" y="250.89" width="1.81" height="1.81" fill="#ec5b60"/>
<line x1="432.94" y1="382.50" x2="652.90" y2="344.50" stroke="#7b52d6" stroke-width="0.90" stroke-opacity="0.85"/>
<line x1="432.94" y1="382.90" x2="652.90" y2="338.40" stroke="#ee5f48" stroke-width="0.90" stroke-opacity="0.85"/>
<line x1="432.94" y1="384.20" x2="652.90" y2="313.40" stroke="#1a8f97" stroke-width="0.90" stroke-opacity="0.85"/>
<line x1="432.94" y1="386.20" x2="652.90" y2="280.30" stroke="#f9aa55" stroke-width="0.90" stroke-opacity="0.85"/>
<polygon points="506.26,365.65 508.21,369.16 504.31,369.16" fill="#1a8f97"/>
<polygon points="530.64,346.55 532.59,350.06 528.69,350.06" fill="#1a8f97"/>
<polygon points="561.25,335.65 563.20,339.16 559.30,339.16" fill="#1a8f97"/>
<polygon points="652.90,313.95 654.85,317.46 650.95,317.46" fill="#1a8f97"/>
<rect x="504.61" y="366.55" width="3.30" height="3.30" fill="#ee5f48"/>
<rect x="528.99" y="359.15" width="3.30" height="3.30" fill="#ee5f48"/>
<rect x="559.60" y="356.05" width="3.30" height="3.30" fill="#ee5f48"/>
<rect x="651.25" y="335.75" width="3.30" height="3.30" fill="#ee5f48"/>
<circle cx="506.26" cy="368.50" r="1.75" fill="#7b52d6"/>
<circle cx="530.64" cy="366.10" r="1.75" fill="#7b52d6"/>
<circle cx="561.25" cy="361.90" r="1.75" fill="#7b52d6"/>
<circle cx="652.90" cy="344.30" r="1.75" fill="#7b52d6"/>
<polygon points="506.26,349.35 508.21,345.84 504.31,345.84" fill="#f9aa55"/>
<polygon points="530.64,338.25 532.59,334.74 528.69,334.74" fill="#f9aa55"/>
<polygon points="561.25,334.15 563.20,330.64 559.30,330.64" fill="#f9aa55"/>
<polygon points="652.90,279.05 654.85,275.54 650.95,275.54" fill="#f9aa55"/>
<line x1="674.80" y1="246.40" x2="693.20" y2="246.40" stroke="#7b52d6" stroke-width="1.15" stroke-opacity="0.72"/>
<circle cx="683.90" cy="246.40" r="1.45" fill="#7b52d6"/>
<text transform="translate(703.65,250.40) scale(1.200,1)" font-size="9.3" font-weight="bold" fill="#111" stroke="#111" stroke-width="0.3">Control</text>
<line x1="674.80" y1="260.80" x2="693.20" y2="260.80" stroke="#ee5f48" stroke-width="1.15" stroke-opacity="0.72"/>
<rect x="682.20" y="259.10" width="3.40" height="3.40" fill="#ee5f48"/>
<text transform="translate(703.65,264.80) scale(1.200,1)" font-size="9.3" font-weight="bold" fill="#111" stroke="#111" stroke-width="0.3">0.10 mM Cd</text>
<text transform="translate(766.28,260.40) scale(1.080,1)" font-size="6.5" font-weight="bold" fill="#111" stroke="#111" stroke-width="0.3">2+</text>
<line x1="674.80" y1="275.60" x2="693.20" y2="275.60" stroke="#1a8f97" stroke-width="1.15" stroke-opacity="0.72"/>
<polygon points="683.90,273.81 685.69,277.04 682.11,277.04" fill="#1a8f97"/>
<text transform="translate(703.65,279.60) scale(1.200,1)" font-size="9.3" font-weight="bold" fill="#111" stroke="#111" stroke-width="0.3">0.15 mM Cd</text>
<text transform="translate(766.28,275.20) scale(1.080,1)" font-size="6.5" font-weight="bold" fill="#111" stroke="#111" stroke-width="0.3">2+</text>
<line x1="674.80" y1="290.30" x2="693.20" y2="290.30" stroke="#f9aa55" stroke-width="1.15" stroke-opacity="0.72"/>
<polygon points="683.90,291.96 685.56,288.97 682.24,288.97" fill="#f9aa55"/>
<text transform="translate(703.65,294.30) scale(1.200,1)" font-size="9.3" font-weight="bold" fill="#111" stroke="#111" stroke-width="0.3">0.40 mM Cd</text>
<text transform="translate(766.28,289.90) scale(1.080,1)" font-size="6.5" font-weight="bold" fill="#111" stroke="#111" stroke-width="0.3">2+</text>
</svg></body></html>
